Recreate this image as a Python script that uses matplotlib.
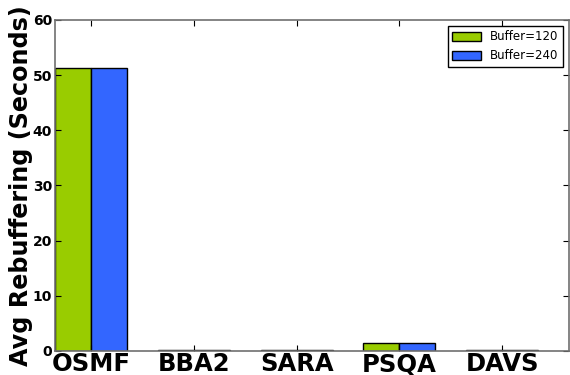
import numpy as np
import matplotlib
matplotlib.use('Agg')
import matplotlib.pyplot as plt

# data
methods = ['OSMF', 'BBA2', 'SARA', 'PSQA', 'DAVS']
buf120 = [51.2, 0.1, 0.1, 1.5, 0.1]
buf240 = [51.3, 0.1, 0.1, 1.5, 0.1]

width = 0.35
x = np.arange(len(methods))

fig = plt.figure(figsize=(5.7, 3.75), dpi=100)
ax = fig.add_axes([0.0965, 0.064, 0.902, 0.883])

ax.bar(x, buf120, width, align='edge', color='#99cc00', edgecolor='black', linewidth=1, label='Buffer=120')
ax.bar(x + width, buf240, width, align='edge', color='#3366ff', edgecolor='black', linewidth=1, label='Buffer=240')

ax.set_xlim(0, 5)
ax.set_ylim(0, 60)
ax.set_xticks(x + width)
ax.set_xticklabels(methods, fontsize=17.5, fontweight='heavy')
ax.set_yticks(range(0, 61, 10))
for t in ax.get_yticklabels():
    t.set_fontweight('bold')
    t.set_fontsize(10)
ax.tick_params(direction='in', top=True, right=True, length=4, pad=2)
ax.tick_params(axis='x', pad=1)
for s in ax.spines.values():
    s.set_color('#707070')
    s.set_linewidth(1.2)

ax.set_ylabel('Avg Rebuffering (Seconds)', fontsize=17.2, fontweight='heavy', labelpad=0)
ax.legend(loc='upper right', fontsize=8.5, fancybox=False, edgecolor='black', framealpha=1,
          handlelength=2.4, handleheight=0.8, borderaxespad=0.5)

fig.savefig('out.png', dpi=100)
